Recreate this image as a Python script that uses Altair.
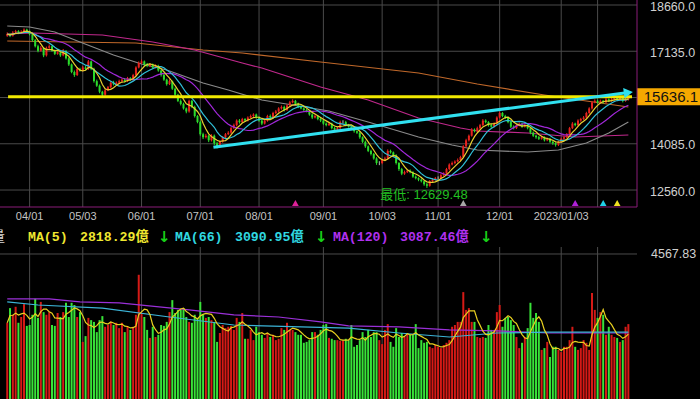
import altair as alt
import pandas as pd

# ---------------- data ----------------
OPEN = [
    17650, 17700, 17650, 17750, 17800, 17750, 17780, 17850, 17800, 17700,
    17500, 17300, 17150, 17250, 17000, 17250, 17300, 17150, 17050, 17100,
    17000, 17150, 16900, 16700, 16450, 16350, 16550, 16500, 16600, 16550,
    16800, 16550, 16150, 16000, 15800, 15700, 15850, 15950, 16100, 16050,
    16100, 16150, 16200, 16150, 16250, 16200, 16350, 16600, 16750, 16800,
    16700, 16650, 16700, 16600, 16650, 16500, 16350, 16200, 16050, 16150,
    15900, 15700, 15500, 15400, 15250, 15150, 15500, 15300, 15000, 14800,
    14400, 14300, 14350, 14200, 14350, 14100, 14000, 14150, 14300, 14400,
    14450, 14600, 14700, 14850, 14800, 14900, 14850, 14950, 15000, 15050,
    14950, 14850, 14750, 14850, 15000, 14950, 15100, 15150, 15250, 15300,
    15200, 15350, 15450, 15500, 15400, 15300, 15250, 15200, 15150, 15050,
    14950, 15000, 14900, 14850, 14750, 14700, 14750, 14600, 14550, 14600,
    14800, 14800, 14700, 14650, 14600, 14500, 14450, 14300, 14150, 14000,
    13850, 13750, 13600, 13450, 13450, 13550, 13600, 13850, 13800, 13700,
    13450, 13250, 13100, 13150, 13200, 13150, 13000, 12950, 12900, 12850,
    12750, 12700, 12850, 12900, 12950, 12950, 13050, 13100, 13250, 13400,
    13450, 13500, 13550, 13650, 14000, 14200, 14350, 14550, 14500, 14600,
    14700, 14850, 14800, 14700, 14650, 14750, 14950, 15100, 15000, 14950,
    14800, 14650, 14600, 14700, 14750, 14650, 14700, 14600, 14450, 14350,
    14300, 14250, 14300, 14200, 14250, 14150, 14100, 14050, 14150, 14250,
    14300, 14400, 14600, 14750, 14700, 14850, 14900, 14950, 15100, 15250,
    15450, 15500, 15450, 15500, 15450, 15550, 15500, 15550, 15600, 15550,
    15600, 15500, 15550,
]
HIGH = [
    17760, 17740, 17800, 17840, 17830, 17830, 17890, 17880, 17820, 17730,
    17540, 17350, 17310, 17270, 17290, 17360, 17320, 17190, 17150, 17130,
    17210, 17170, 16940, 16730, 16500, 16610, 16590, 16650, 16660, 16850,
    16830, 16590, 16200, 16040, 15830, 15900, 15990, 16150, 16160, 16140,
    16200, 16240, 16250, 16290, 16280, 16390, 16640, 16800, 16860, 16830,
    16750, 16740, 16730, 16700, 16690, 16530, 16390, 16230, 16210, 16170,
    15940, 15730, 15550, 15440, 15280, 15540, 15530, 15340, 15030, 14850,
    14450, 14410, 14380, 14400, 14390, 14150, 14200, 14340, 14440, 14500,
    14640, 14750, 14890, 14900, 14940, 14930, 14990, 15050, 15090, 15080,
    14990, 14880, 14890, 15040, 15050, 15140, 15200, 15290, 15350, 15340,
    15390, 15500, 15550, 15530, 15440, 15350, 15280, 15240, 15180, 15090,
    15050, 15030, 14940, 14880, 14790, 14800, 14780, 14640, 14650, 14850,
    14860, 14840, 14740, 14680, 14640, 14530, 14490, 14330, 14190, 14030,
    13890, 13780, 13640, 13510, 13590, 13660, 13900, 13890, 13830, 13740,
    13480, 13290, 13200, 13240, 13240, 13180, 13040, 12980, 12940, 12880,
    12790, 12890, 12950, 12990, 13010, 13090, 13150, 13290, 13440, 13500,
    13540, 13600, 13690, 14040, 14250, 14390, 14600, 14590, 14650, 14740,
    14900, 14890, 14830, 14740, 14790, 14990, 15150, 15130, 15040, 14980,
    14840, 14690, 14740, 14790, 14780, 14740, 14730, 14630, 14490, 14380,
    14340, 14350, 14330, 14290, 14280, 14190, 14130, 14190, 14290, 14350,
    14440, 14640, 14800, 14780, 14890, 14940, 15000, 15140, 15290, 15490,
    15550, 15540, 15540, 15530, 15590, 15580, 15590, 15640, 15630, 15640,
    15630, 15600, 15640,
]
LOW = [
    17610, 17600, 17620, 17710, 17700, 17720, 17740, 17750, 17660, 17450,
    17260, 17100, 17120, 16940, 16960, 17210, 17120, 17010, 17020, 16950,
    16970, 16860, 16650, 16410, 16290, 16320, 16460, 16470, 16510, 16520,
    16510, 16100, 15960, 15750, 15620, 15660, 15820, 15910, 16010, 16020,
    16060, 16120, 16100, 16120, 16160, 16170, 16310, 16570, 16710, 16650,
    16610, 16620, 16560, 16570, 16460, 16300, 16160, 16000, 16020, 15860,
    15650, 15460, 15350, 15210, 15090, 15110, 15260, 14950, 14760, 14350,
    14240, 14260, 14140, 14160, 14040, 13930, 13960, 14120, 14260, 14370,
    14410, 14570, 14660, 14750, 14770, 14810, 14820, 14910, 14970, 14910,
    14810, 14700, 14720, 14810, 14910, 14920, 15060, 15120, 15210, 15150,
    15170, 15310, 15420, 15360, 15260, 15220, 15160, 15120, 15010, 14900,
    14920, 14860, 14800, 14710, 14660, 14670, 14560, 14500, 14510, 14570,
    14750, 14660, 14620, 14560, 14450, 14410, 14250, 14110, 13950, 13810,
    13700, 13560, 13390, 13380, 13410, 13520, 13560, 13760, 13660, 13400,
    13190, 13050, 13060, 13120, 13110, 12960, 12910, 12850, 12810, 12700,
    12629.48, 12670, 12810, 12870, 12900, 12920, 13010, 13070, 13210, 13370,
    13410, 13470, 13510, 13610, 13970, 14160, 14320, 14460, 14470, 14560,
    14670, 14760, 14650, 14610, 14620, 14710, 14920, 14960, 14900, 14760,
    14600, 14560, 14570, 14660, 14610, 14620, 14560, 14400, 14310, 14250,
    14210, 14220, 14160, 14170, 14110, 14050, 13990, 14010, 14120, 14210,
    14270, 14360, 14570, 14660, 14670, 14810, 14870, 14910, 15070, 15210,
    15420, 15410, 15420, 15410, 15420, 15460, 15470, 15510, 15520, 15510,
    15450, 15470, 15510,
]
CLOSE = [
    17700, 17650, 17750, 17800, 17750, 17780, 17850, 17800, 17700, 17500,
    17300, 17150, 17250, 17000, 17250, 17300, 17150, 17050, 17100, 17000,
    17150, 16900, 16700, 16450, 16350, 16550, 16500, 16600, 16550, 16800,
    16550, 16150, 16000, 15800, 15700, 15850, 15950, 16100, 16050, 16100,
    16150, 16200, 16150, 16250, 16200, 16350, 16600, 16750, 16800, 16700,
    16650, 16700, 16600, 16650, 16500, 16350, 16200, 16050, 16150, 15900,
    15700, 15500, 15400, 15250, 15150, 15500, 15300, 15000, 14800, 14400,
    14300, 14350, 14200, 14350, 14100, 14000, 14150, 14300, 14400, 14450,
    14600, 14700, 14850, 14800, 14900, 14850, 14950, 15000, 15050, 14950,
    14850, 14750, 14850, 15000, 14950, 15100, 15150, 15250, 15300, 15200,
    15350, 15450, 15500, 15400, 15300, 15250, 15200, 15150, 15050, 14950,
    15000, 14900, 14850, 14750, 14700, 14750, 14600, 14550, 14600, 14800,
    14800, 14700, 14650, 14600, 14500, 14450, 14300, 14150, 14000, 13850,
    13750, 13600, 13450, 13450, 13550, 13600, 13850, 13800, 13700, 13450,
    13250, 13100, 13150, 13200, 13150, 13000, 12950, 12900, 12850, 12750,
    12700, 12850, 12900, 12950, 12950, 13050, 13100, 13250, 13400, 13450,
    13500, 13550, 13650, 14000, 14200, 14350, 14550, 14500, 14600, 14700,
    14850, 14800, 14700, 14650, 14750, 14950, 15100, 15000, 14950, 14800,
    14650, 14600, 14700, 14750, 14650, 14700, 14600, 14450, 14350, 14300,
    14250, 14300, 14200, 14250, 14150, 14100, 14050, 14150, 14250, 14300,
    14400, 14600, 14750, 14700, 14850, 14900, 14950, 15100, 15250, 15450,
    15500, 15450, 15500, 15450, 15550, 15500, 15550, 15600, 15550, 15600,
    15500, 15550, 15600,
]
VOLUME = [
    3020, 3350, 3200, 3380, 3020, 3150, 3440, 2950, 2970, 3200, 3560, 3130, 3490, 3260, 3200,
    3260, 2970, 2950, 3240, 3150, 3260, 3470, 3150, 3470, 3420, 3150, 3260, 2590, 2720, 3130, 3080, 3040,
    2810, 3080, 3170, 2930, 2970, 3040, 2970, 3020, 2900, 3020, 2810, 2930, 2860, 2930, 3200, 4100, 3240, 3150,
    2860, 2680, 2930, 2700, 2750, 2970, 2950, 3040, 3260, 3530, 3240, 3310, 3310, 3350, 3150, 3040, 3020,
    3200, 3130, 3490, 3200, 3130, 3150, 3080, 3040, 2590, 2790, 2970, 2900, 2930, 2950, 2860, 3130, 3040,
    3240, 2660, 2660, 2860, 2630, 2930, 2810, 2750, 2680, 2790, 2700, 2750, 2630, 2660, 2900, 2860, 3020,
    2860, 2860, 2810, 2750, 2750, 2570, 2590, 2630, 2810, 2810, 2750, 2860, 2970, 2990, 2680, 2660, 2630,
    2630, 2610, 2630, 2660, 2630,
    2970, 2480, 2520, 2630, 2810, 2700, 2860, 2700,
    2810, 2810, 2630, 2540, 2860, 2990, 2590, 2480, 2900, 2700, 2790, 2700, 2790, 2750, 2750, 2990, 2450,
    2630, 2570, 2590, 2480, 2450, 2520, 2480, 2450, 2520, 2570, 2630, 2930, 2970, 3040, 3040, 3710, 3310,
    3350, 3040, 3040, 2700, 2680, 2700, 2680, 2970, 2860, 2860, 3260, 3420, 2930, 3130, 3150, 3080, 2970,
    2700, 2450, 2570, 2700, 2900, 3470, 3130, 3240, 3040, 2410, 2450, 2590, 2250, 2480, 2480, 2410, 2360,
    2480, 2480, 2630, 2930, 2480, 2410, 2450, 2630, 2570, 2410, 3690, 3310, 3130, 3260, 3200, 2750, 2930,
    2750, 2700, 2680, 2590, 2630, 2930, 2990,
]

# long moving averages (history before the window is not shown, so read off the picture)
MA60_IDX = [0, 8, 17, 26, 38, 48, 57, 70, 79, 91, 102, 115, 129, 147, 159, 168, 186, 197, 207, 215, 222]
MA60_VAL = [17968, 17935, 17770, 17440, 17010, 16715, 16517, 16088, 15858, 15528, 15363, 15165,
            14802, 14308, 14044, 13879, 13813, 13879, 14110, 14440, 14800]
MA120_IDX = [0, 9, 34, 52, 67, 84, 91, 112, 129, 147, 162, 168, 186, 203, 222]
MA120_VAL = [17704, 17737, 17671, 17440, 17176, 16748, 16583, 15957, 15528, 14934, 14605, 14506,
             14440, 14308, 14374]
MA240_IDX = [0, 46, 70, 84, 112, 147, 168, 192, 222]
MA240_VAL = [17473, 17407, 17176, 17077, 16781, 16418, 16055, 15693, 15297]

VMA66_IDX = [0, 11, 34, 58, 81, 105, 122, 140, 158, 175, 193, 222]
VMA66_VAL = [3490, 3420, 3350, 3150, 2970, 2930, 2900, 2790, 2700, 2790, 2810, 2810]
VMA120_IDX = [0, 15, 26, 40, 65, 81, 97, 112, 122, 140, 158, 175, 193, 222]
VMA120_VAL = [3560, 3560, 3490, 3470, 3310, 3200, 3150, 3040, 2950, 2930, 2860, 2840, 2790, 2790]

DATE_IDX = [8, 27, 48, 69, 90, 113, 134, 154, 176, 198]
DATE_TEXT = ["04/01", "05/03", "06/01", "07/01", "08/01", "09/01", "10/03", "11/01", "12/01", "2023/01/03"]
GRID_IDX = DATE_IDX + [211]

PRICE_GRID = [18660, 17135, 15610, 14085, 12560]
PRICE_LABELS = [18660, 17135, 14085, 12560]
VOL_GRID = 4567.83

HLINE_VALUE = 15636.1
HLINE_IDX = [0.3, 223.3]
TREND_IDX = [73.7, 222.0]
TREND_VAL = [13970, 15775]

MARK_IDX = [103, 163, 203, 213, 218]
MARK_COLOR = ["#e0209a", "#a8a8a8", "#b020d8", "#20d0e8", "#f0e020"]

LOW_LABEL = "最低"
VOL_MA_LABELS = ["MA(5)", "MA(66)", "MA(120)"]
VOL_MA_VALUES = ["2818.29億", "3090.95億", "3087.46億"]

# ---------------- styling ----------------
W, H = 637, 399
BG = "#000000"
GRID = "#4a4a4a"
BORDER = "#8a1c78"
RED, GREEN, GRAY = "#e8231e", "#2bdc2b", "#b8b8b8"
VRED, VGREEN = "#d51a16", "#38e238"
C_MA5, C_MA10, C_MA20 = "#e8d030", "#30c0d8", "#a028d8"
C_MA60, C_MA120, C_MA240 = "#8a8a8a", "#c0288c", "#c0682a"
C_VMA5, C_VMA66, C_VMA120 = "#e8d020", "#3cb4d8", "#9a30d8"
CYAN_LINE = "#30e0f0"
YEL_LINE = "#f2ea00"
GOLD = "#f5a800"
LBL = "#d0d0d0"
MONO = "Liberation Mono, DejaVu Sans Mono, Noto Sans CJK TC"
SANS = "Liberation Sans, Noto Sans CJK TC"

XS = alt.Scale(domain=[-0.8, 223.3], nice=False, zero=False)
PS = alt.Scale(domain=[5670, 18825], nice=False, zero=False)
VS = alt.Scale(domain=[1305, 10283], nice=False, zero=False)

N = min(len(OPEN), len(HIGH), len(LOW), len(CLOSE), len(VOLUME))
df = pd.DataFrame({
    "idx": list(range(N)), "o": OPEN[:N], "h": HIGH[:N], "l": LOW[:N],
    "c": CLOSE[:N], "v": VOLUME[:N],
})

X = alt.X("idx:Q", scale=XS, axis=None)

base = alt.Chart(df).transform_calculate(
    col=f"datum.c > datum.o ? '{RED}' : (datum.c < datum.o ? '{GREEN}' : '{GRAY}')",
    vcol=f"datum.c >= datum.o ? '{VRED}' : '{VGREEN}'",
)


def one():
    return alt.Chart(pd.DataFrame({"k": [0]}))


def sparse_line(idx, val, color, scale, width=1.2):
    return alt.Chart(pd.DataFrame({"idx": idx, "val": val})).mark_line(
        color=color, strokeWidth=width
    ).encode(x=X, y=alt.Y("val:Q", scale=scale, axis=None))


def window_line(field, n, color, scale, width=1.2):
    name = f"ma_{field}_{n}"
    return base.transform_window(
        **{name: f"mean({field})"}, frame=[-(n - 1), 0], sort=[alt.SortField("idx")]
    ).mark_line(color=color, strokeWidth=width).encode(
        x=X, y=alt.Y(f"{name}:Q", scale=scale, axis=None)
    )


def text_at(text, x, y, color, size, font, weight="normal", align="left"):
    return alt.Chart(pd.DataFrame({"t": [text]})).mark_text(
        align=align, baseline="middle", fontSize=size, font=font, fontWeight=weight, color=color
    ).encode(x=alt.value(x), y=alt.value(y), text="t:N")


# ---------------- price panel ----------------
pgrid = alt.Chart(pd.DataFrame({"p": PRICE_GRID})).mark_rule(color=GRID, strokeWidth=1).encode(
    y=alt.Y("p:Q", scale=PS, axis=None), x=alt.value(0), x2=alt.value(W),
)
plabels = alt.Chart(pd.DataFrame({"p": PRICE_LABELS, "t": [f"{v:.1f}" for v in PRICE_LABELS]})).mark_text(
    align="left", baseline="middle", dy=1.5, fontSize=12.5, font="Liberation Sans", color=LBL
).encode(x=alt.value(650), y=alt.Y("p:Q", scale=PS, axis=None), text="t:N")
pvgrid = alt.Chart(pd.DataFrame({"idx": GRID_IDX})).mark_rule(color=GRID, strokeWidth=1).encode(
    x=X, y=alt.value(0), y2=alt.value(207)
)
wick = base.mark_rule(strokeWidth=1).encode(
    x=X, y=alt.Y("l:Q", scale=PS, axis=None), y2="h:Q", color=alt.Color("col:N", scale=None)
)
body = base.mark_bar(width=2).encode(
    x=X, y=alt.Y("o:Q", scale=PS, axis=None), y2="c:Q", color=alt.Color("col:N", scale=None)
)
trend_df = pd.DataFrame({"idx": TREND_IDX, "val": TREND_VAL})
trend = alt.Chart(trend_df).mark_line(color=CYAN_LINE, strokeWidth=3).encode(
    x=X, y=alt.Y("val:Q", scale=PS, axis=None)
)
arrow = alt.Chart(trend_df.tail(1)).mark_point(
    shape="triangle-right", filled=True, size=110, angle=352.5, color=CYAN_LINE, opacity=1
).encode(x=X, y=alt.Y("val:Q", scale=PS, axis=None))
hline = alt.Chart(pd.DataFrame({"a": [HLINE_IDX[0]], "b": [HLINE_IDX[1]], "p": [HLINE_VALUE]})).mark_rule(
    color=YEL_LINE, strokeWidth=3
).encode(x=alt.X("a:Q", scale=XS, axis=None), x2="b:Q", y=alt.Y("p:Q", scale=PS, axis=None))
hl_df = pd.DataFrame({"p": [HLINE_VALUE], "t": [f"{HLINE_VALUE:.1f}"]})
pbox = alt.Chart(hl_df).mark_point(
    shape="M-1,-0.27L1,-0.27L1,0.27L-1,0.27Z", size=3969, filled=True, color=GOLD, opacity=1, strokeWidth=0
).encode(x=alt.value(668.5), y=alt.Y("p:Q", scale=PS, axis=None))
ptext = alt.Chart(hl_df).mark_text(
    align="right", baseline="middle", fontSize=15, font="Liberation Sans", color="#111111"
).encode(x=alt.value(698), y=alt.Y("p:Q", scale=PS, axis=None), text="t:N")
markers = alt.Chart(pd.DataFrame({"idx": MARK_IDX, "c": MARK_COLOR})).mark_point(
    shape="triangle-up", filled=True, size=45, opacity=1
).encode(x=X, y=alt.value(203), color=alt.Color("c:N", scale=None))
low_i = min(range(N), key=lambda i: LOW[i])
lowtext = alt.Chart(pd.DataFrame({"idx": [low_i], "p": [LOW[low_i]], "t": [f"{LOW_LABEL}: {LOW[low_i]:.2f}"]})).mark_text(
    align="center", baseline="middle", dy=7, dx=-3, fontSize=13, font=SANS, color="#22c022"
).encode(x=X, y=alt.Y("p:Q", scale=PS, axis=None), text="t:N")
border_h = one().mark_rule(color=BORDER, strokeWidth=1).encode(
    x=alt.value(0), x2=alt.value(W), y=alt.value(207))
border_v = one().mark_rule(color=BORDER, strokeWidth=1).encode(
    x=alt.value(W), y=alt.value(0), y2=alt.value(207))

price = alt.layer(
    pgrid, pvgrid,
    sparse_line(MA240_IDX, MA240_VAL, C_MA240, PS),
    sparse_line(MA120_IDX, MA120_VAL, C_MA120, PS),
    sparse_line(MA60_IDX, MA60_VAL, C_MA60, PS),
    wick, body,
    window_line("c", 20, C_MA20, PS),
    window_line("c", 10, C_MA10, PS),
    window_line("c", 5, C_MA5, PS),
    hline, trend, arrow, pbox, ptext, plabels, markers, lowtext, border_h, border_v,
)

# ---------------- volume panel ----------------
vvgrid = alt.Chart(pd.DataFrame({"idx": GRID_IDX})).mark_rule(color=GRID, strokeWidth=1).encode(
    x=X, y=alt.value(247), y2=alt.value(H)
)
vhgrid = alt.Chart(pd.DataFrame({"v": [VOL_GRID]})).mark_rule(color=GRID, strokeWidth=1).encode(
    y=alt.Y("v:Q", scale=VS, axis=None), x=alt.value(0), x2=alt.value(W)
)
vbars = base.mark_bar(width=2).encode(
    x=X, y=alt.Y("v:Q", scale=VS, axis=None), y2=alt.value(H), color=alt.Color("vcol:N", scale=None)
)
vlabel = alt.Chart(pd.DataFrame({"v": [VOL_GRID], "t": [f"{VOL_GRID:.2f}"]})).mark_text(
    align="left", baseline="middle", fontSize=12.5, font="Liberation Sans", color=LBL
).encode(x=alt.value(651), y=alt.Y("v:Q", scale=VS, axis=None), text="t:N")

volume = alt.layer(
    vvgrid, vhgrid, vbars,
    sparse_line(VMA120_IDX, VMA120_VAL, C_VMA120, VS),
    sparse_line(VMA66_IDX, VMA66_VAL, C_VMA66, VS),
    window_line("v", 5, C_VMA5, VS),
    vlabel,
)

# ---------------- text rows ----------------
dates = alt.Chart(pd.DataFrame({"idx": DATE_IDX, "t": DATE_TEXT})).mark_text(
    align="center", baseline="middle", fontSize=11, font="Liberation Sans", color="#c4c4c4"
).encode(x=X, y=alt.value(217), text="t:N")

leg_colors = ["#f0e830", "#30d8e0", "#b030f0"]
lab_x = [28, 175, 333]
val_x = [80, 235, 400]
arr_x = [158, 315, 480]
legend_layers = [text_at("量", -9, 237, "#d8d8d8", 14, SANS)]
for k in range(3):
    legend_layers.append(text_at(VOL_MA_LABELS[k], lab_x[k], 237, leg_colors[k], 13.2, MONO, "bold"))
    legend_layers.append(text_at(VOL_MA_VALUES[k], val_x[k], 237, leg_colors[k], 13.2, MONO, "bold"))
    legend_layers.append(text_at("↓", arr_x[k], 237, "#18d018", 15, "DejaVu Sans", "bold"))

texts = alt.layer(dates, *legend_layers)

chart = alt.layer(price, volume, texts).resolve_scale(y="independent").properties(
    width=W, height=H,
    autosize=alt.AutoSizeParams(type="none"),
    padding={"left": 0, "top": 0, "right": 63, "bottom": 0},
    background=BG,
).configure_view(stroke=None)

chart.save("out.html", embed_options={"renderer": "svg", "actions": False})
